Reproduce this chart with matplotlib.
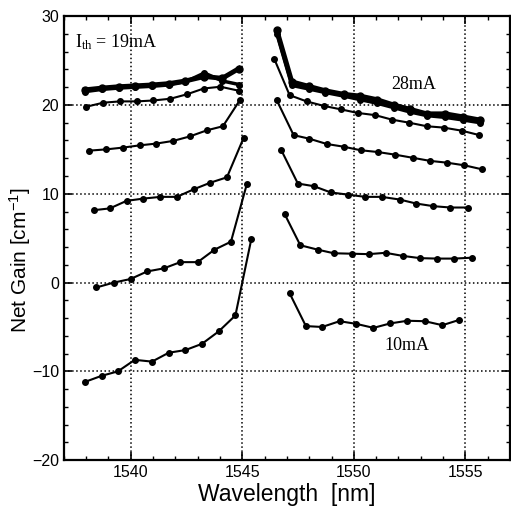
import matplotlib.pyplot as plt
from matplotlib.ticker import MultipleLocator

plt.rcParams['font.family'] = ['Liberation Sans', 'DejaVu Sans']
plt.rcParams['mathtext.fontset'] = 'stix'

# wavelength [nm] / net gain [cm^-1], left (short) and right (long) branch of each curve
wl_10_l = [1537.93, 1538.69, 1539.42, 1540.18, 1540.95, 1541.70, 1542.45, 1543.19, 1543.94, 1544.69, 1545.40]
g_10_l = [-11.2, -10.5, -10.0, -8.7, -8.9, -7.9, -7.6, -6.9, -5.5, -3.7, 4.85]
wl_10_r = [1547.12, 1547.85, 1548.58, 1549.36, 1550.11, 1550.88, 1551.63, 1552.40, 1553.18, 1553.97, 1554.73]
g_10_r = [-1.2, -4.9, -5.0, -4.35, -4.65, -5.1, -4.6, -4.3, -4.35, -4.8, -4.2]

wl_13_l = [1538.46, 1539.24, 1539.99, 1540.73, 1541.48, 1542.22, 1543.00, 1543.75, 1544.49, 1545.21]
g_13_l = [-0.55, 0.0, 0.4, 1.25, 1.6, 2.3, 2.3, 3.7, 4.6, 11.15]
wl_13_r = [1546.90, 1547.60, 1548.39, 1549.10, 1549.90, 1550.66, 1551.42, 1552.20, 1552.97, 1553.73, 1554.50, 1555.30]
g_13_r = [7.7, 4.2, 3.7, 3.3, 3.25, 3.2, 3.35, 3.0, 2.75, 2.7, 2.7, 2.8]

wl_16_l = [1538.34, 1539.06, 1539.81, 1540.55, 1541.33, 1542.07, 1542.82, 1543.57, 1544.31, 1545.06]
g_16_l = [8.15, 8.35, 9.2, 9.45, 9.65, 9.65, 10.5, 11.25, 11.85, 16.3]
wl_16_r = [1546.75, 1547.49, 1548.21, 1548.96, 1549.73, 1550.51, 1551.25, 1552.05, 1552.79, 1553.57, 1554.33, 1555.14]
g_16_r = [14.9, 11.15, 10.85, 10.15, 9.9, 9.65, 9.65, 9.35, 8.9, 8.6, 8.45, 8.45]

wl_19_l = [1538.12, 1538.91, 1539.66, 1540.40, 1541.15, 1541.90, 1542.64, 1543.42, 1544.13, 1544.88]
g_19_l = [14.85, 15.0, 15.2, 15.45, 15.65, 15.95, 16.45, 17.15, 17.6, 20.5]
wl_19_r = [1546.55, 1547.30, 1548.00, 1548.79, 1549.54, 1550.30, 1551.07, 1551.85, 1552.64, 1553.42, 1554.17, 1554.96, 1555.75]
g_19_r = [20.5, 16.6, 16.2, 15.6, 15.3, 14.9, 14.7, 14.4, 14.05, 13.7, 13.5, 13.2, 12.75]

wl_22_l = [1538.01, 1538.76, 1539.51, 1540.28, 1541.00, 1541.78, 1542.52, 1543.27, 1544.02, 1544.84]
g_22_l = [19.8, 20.25, 20.4, 20.4, 20.5, 20.7, 21.2, 21.85, 22.05, 21.6]
wl_22_r = [1546.43, 1547.12, 1547.88, 1548.64, 1549.42, 1550.17, 1550.96, 1551.70, 1552.48, 1553.27, 1554.02, 1554.84, 1555.63]
g_22_r = [25.2, 21.1, 20.4, 19.9, 19.5, 19.1, 18.85, 18.35, 18.0, 17.6, 17.45, 17.1, 16.6]

wl_top_l = [1537.95, 1538.70, 1539.45, 1540.20, 1540.95, 1541.70, 1542.45, 1543.30, 1544.10, 1544.85]
g_26_l = [21.5, 21.75, 21.9, 22.0, 22.1, 22.25, 22.6, 23.6, 22.7, 22.3]
g_28_l = [21.7, 21.9, 22.05, 22.15, 22.25, 22.4, 22.7, 23.2, 23.0, 24.1]
wl_top_r = [1546.55, 1547.22, 1547.97, 1548.72, 1549.54, 1550.28, 1551.03, 1551.78, 1552.53, 1553.27, 1554.10, 1554.91, 1555.66]
g_26_r = [28.0, 22.2, 21.8, 21.4, 21.0, 20.6, 20.2, 19.7, 19.2, 18.8, 18.6, 18.3, 18.0]
g_28_r = [28.4, 22.6, 22.1, 21.6, 21.2, 21.0, 20.6, 20.0, 19.5, 19.0, 19.0, 18.65, 18.3]

fig = plt.figure(figsize=(5.11, 5.20), dpi=100)
ax = fig.add_axes([0.125, 0.115, 0.873, 0.854])

thin = dict(color='k', lw=1.5, marker='o', ms=4)
for x, y in [(wl_10_l, g_10_l), (wl_10_r, g_10_r), (wl_13_l, g_13_l), (wl_13_r, g_13_r),
             (wl_16_l, g_16_l), (wl_16_r, g_16_r), (wl_19_l, g_19_l), (wl_19_r, g_19_r),
             (wl_22_l, g_22_l), (wl_22_r, g_22_r)]:
    ax.plot(x, y, **thin)
# the thick 26/28 mA curves
ax.plot(wl_top_l, g_26_l, color='k', lw=2.5, marker='o', ms=4)
ax.plot(wl_top_r, g_26_r, color='k', lw=2.5, marker='o', ms=4)
ax.plot(wl_top_l, g_28_l, color='k', lw=3.5, marker='o', ms=5)
ax.plot(wl_top_r, g_28_r, color='k', lw=3.5, marker='o', ms=5)

ax.text(1537.5, 26.5, r'$\mathregular{I_{th}}$ = 19mA', family='Liberation Serif', fontsize=13)
ax.text(1552.7, 22.3, '28mA', family='Liberation Serif', fontsize=13, ha='center', va='center')
ax.text(1552.4, -7.05, '10mA', family='Liberation Serif', fontsize=13, ha='center', va='center')

ax.set_xlim(1537, 1557)
ax.set_ylim(-20, 30)
ax.xaxis.set_major_locator(MultipleLocator(5))
ax.xaxis.set_minor_locator(MultipleLocator(1))
ax.yaxis.set_major_locator(MultipleLocator(10))
ax.yaxis.set_minor_locator(MultipleLocator(2))
ax.tick_params(which='both', direction='in', top=True, right=True, labelsize=11.5)
ax.tick_params(which='major', length=6, width=1.2)
ax.tick_params(which='minor', length=3, width=1)
for s in ax.spines.values():
    s.set_linewidth(1.6)
ax.grid(True, which='major', color='k', linestyle=':', lw=1.1)

ax.set_xlabel('Wavelength  [nm]', fontsize=16.5, labelpad=2)
ax.set_ylabel(r'Net Gain [cm$^{\mathregular{-1}}$]', fontsize=15)
ax.yaxis.set_label_coords(-0.07, 0.45)

fig.savefig('out.png', dpi=100)
